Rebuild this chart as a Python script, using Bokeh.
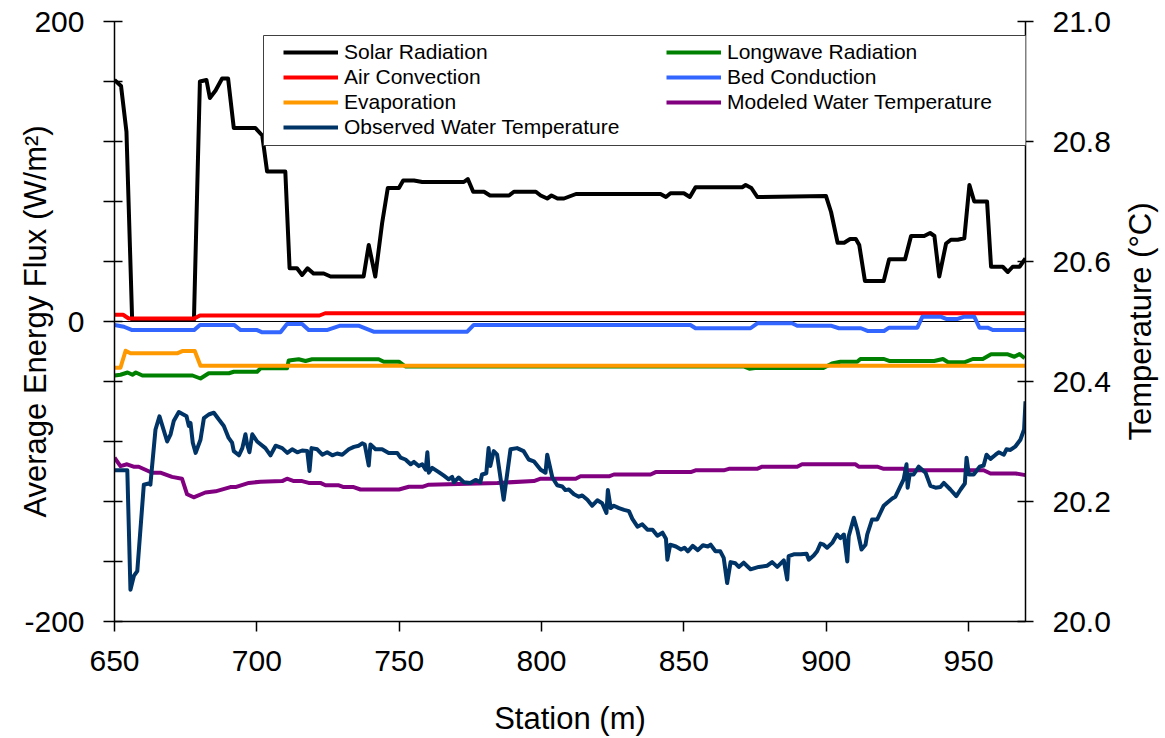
import math
from bokeh.plotting import figure
from bokeh.layouts import row
from bokeh.models import (Range1d, LinearAxis, FixedTicker, PrintfTickFormatter,
                          Legend, LegendItem, Span, BoxAnnotation, Title)
from bokeh.embed import file_html
from bokeh.resources import INLINE

# ---------------- data ----------------
solar_x = [650, 652.3, 654.2, 656.2, 677.9, 680, 682.3, 683.5, 685.5, 687.8,
           689.9, 691.9, 699.5, 701.9, 703.6, 710, 711.5, 714.1, 715.9, 717.8,
           719.9, 723.5, 725.9, 737.5, 739.3, 741.6, 744, 746, 749.9, 751.4,
           755.2, 758.1, 772.7, 774.1, 776, 779.8, 781.9, 788.6, 790.3, 798,
           799.7, 802, 803.5, 805.6, 807.9, 812.1, 841.8, 843.7, 845.3, 850,
           852.1, 854.1, 870.5, 871.7, 873.7, 875.8, 899.9, 901.7, 904, 906.3,
           908.4, 910.4, 911.6, 913.6, 920.2, 922.1, 927.7, 929.8, 934.4, 936.5,
           938, 939.7, 942.1, 943.8, 946.2, 948.5, 950.3, 952, 956.5, 957.9,
           962, 963.8, 965.5, 967.9, 970]
solar_flux = [161, 157, 126.5, 1, 1, 160, 161, 149, 154, 162,
              162, 129, 129, 124, 100, 100, 35.5, 35.5, 31, 35.5,
              32, 32, 30, 30, 51, 30, 65.5, 89, 89, 94,
              94, 93, 93, 95, 86.5, 86.5, 84, 84, 86.5, 86.5,
              84, 82, 84, 82, 82, 85, 85, 83, 85.5, 85.5,
              83, 89.5, 89.5, 91, 89, 83, 83.7, 73, 52.5, 52.5,
              55, 55, 51, 27, 27, 41.5, 41.5, 57, 57, 59,
              57, 30, 52, 54.5, 54.5, 55.5, 91, 80, 80, 36.5,
              36.5, 33, 36.5, 36.5, 42]

air_x = [650, 653, 655, 678, 680, 722, 724, 970]
air_flux = [4.5, 4.5, 2, 2, 4, 4, 5.5, 5.5]

bed_x = [650, 653.3, 656.2, 678, 680, 692, 694.3, 700.1, 701.9, 708.3,
         710.6, 715.9, 718.2, 724.6, 729.3, 735.7, 741, 773.9, 776.2, 852.3,
         854.1, 873.4, 875.8, 888, 889.8, 901.6, 904.5, 912.2, 914.5, 920.3,
         922.1, 932, 933.8, 940.2, 942.1, 946.2, 948.5, 952, 953.8, 956.7,
         958.5, 970]
bed_flux = [-2.3, -3.5, -5.7, -5.7, -2.3, -2.3, -5.7, -5.7, -7.2, -7.2,
            -1.7, -1.7, -5.7, -5.7, -2.8, -2.8, -6.8, -6.8, -2.3, -2.3,
            -4.5, -4.5, -1.2, -1.2, -2.8, -2.8, -4.5, -4.5, -6.3, -6.3,
            -4.1, -4.1, 3.2, 3.2, 1.7, 1.7, 3.2, 3.2, -4.1, -4.1,
            -5.7, -5.7]

evap_x = [650, 652.1, 653.9, 655.6, 672, 673.8, 678.2, 680.2, 970]
evap_flux = [-30.8, -30.8, -19.5, -21.2, -21.2, -19.7, -19.7, -29.5, -29.5]

lw_x = [650, 652.1, 654.6, 656.3, 657.5, 659.8, 677.4, 680.2, 683.1, 690.2,
        691.9, 700.1, 701.3, 710.6, 711.2, 714.7, 717.1, 719.4, 742.8, 744.6,
        749.9, 752.2, 871, 873, 875, 877, 899, 902, 905, 910.9,
        912, 920.3, 922.1, 937.9, 941, 942.8, 948.5, 951.5, 955, 957.9,
        963.8, 966.1, 967.9, 969.7]
lw_flux = [-36, -35.5, -34, -35.5, -34, -36, -36, -38, -34.5, -34.5,
           -33.5, -33.5, -31.2, -31.2, -26, -25.2, -26.3, -25.2, -25.2, -26.8,
           -26.8, -30, -30, -31.5, -31, -31, -31, -28, -26.8, -26.8,
           -25, -25, -26.3, -26.3, -25, -27.2, -27.2, -25, -25, -21.9,
           -21.9, -23.5, -21.7, -24.5]

mod_x = [650, 652.1, 654.4, 656.7, 658.5, 663.2, 666.1, 670.2, 673.7, 675.5,
         677.8, 681.9, 685.5, 690.7, 692.5, 697.2, 701.3, 708.9, 710.6, 713,
         715.9, 718.2, 722.3, 724.1, 728.8, 730.5, 734, 736.4, 749.9, 753.4,
         758.1, 760.4, 784.5, 797.3, 799.7, 812, 813.7, 823.7, 825.4, 838.3,
         840.1, 852.4, 854.1, 864, 865.8, 875.7, 877.5, 889.8, 891.5, 910.3,
         911.4, 917.9, 920.2, 927.2, 928.4, 955.3, 957.7, 966.5, 970]
mod_temp = [20.273, 20.259, 20.262, 20.258, 20.258, 20.248, 20.248, 20.241, 20.238, 20.212,
            20.207, 20.215, 20.217, 20.224, 20.224, 20.231, 20.233, 20.234, 20.238, 20.234,
            20.234, 20.231, 20.231, 20.227, 20.227, 20.224, 20.224, 20.220, 20.220, 20.2245,
            20.2245, 20.228, 20.231, 20.234, 20.238, 20.238, 20.242, 20.242, 20.245, 20.245,
            20.249, 20.249, 20.252, 20.252, 20.2545, 20.2545, 20.258, 20.258, 20.262, 20.262,
            20.258, 20.258, 20.2545, 20.2545, 20.252, 20.252, 20.2467, 20.2467, 20.244]

obs_x = [650, 654.5, 655.6, 656.8, 658.0, 660.3, 662.0, 662.6, 664.4, 665.8,
         668.5, 669.7, 670.8, 672.6, 675.3, 676.1, 676.7, 677.5, 678.5, 680.2,
         681.4, 683.1, 684.9, 686.6, 688.4, 690.1, 691.3, 691.9, 693.7, 694.9,
         696.0, 696.6, 697.4, 698.4, 700.1, 703.0, 704.8, 706.6, 708.9, 710.7,
         712.4, 714.2, 715.9, 717.7, 718.5, 719.2, 721.2, 723.0, 724.7, 726.5,
         728.2, 730.0, 732.3, 734.1, 735.8, 737.0, 737.9, 739.3, 739.9, 741.7,
         744.0, 746.3, 749.3, 750.5, 752.2, 754.0, 755.2, 756.9, 758.1, 759.3,
         759.9, 760.4, 761.6, 763.9, 765.7, 767.4, 768.6, 769.2, 770.9, 772.7,
         775.0, 776.8, 778.5, 779.1, 780.6, 781.4, 782.0, 783.2, 784.4, 786.7,
         789.1, 791.4, 793.7, 795.5, 797.3, 799.7, 801.4, 802.0, 803.8, 805.5,
         807.3, 808.4, 809.6, 811.4, 813.1, 814.3, 816.1, 817.8, 819.6, 821.3,
         822.8, 823.3, 824.3, 825.4, 827.2, 829.0, 830.7, 831.9, 833.7, 835.4,
         837.2, 839.0, 840.7, 842.5, 843.7, 844.2, 845.2, 847.2, 849.0, 850.2,
         851.4, 853.1, 854.9, 856.7, 858.4, 859.4, 861.1, 862.8, 864.0, 865.2,
         866.4, 868.1, 869.3, 871.0, 873.4, 876.3, 879.3, 881.0, 882.8, 885.1,
         886.3, 886.8, 888.6, 891.0, 893.1, 893.9, 895.6, 896.8, 898.0, 899.1,
         900.3, 902.1, 903.8, 905.0, 906.2, 907.4, 907.9, 909.7, 910.9, 912.4,
         913.8, 914.4, 916.1, 917.9, 920.2, 921.4, 923.2, 924.3, 926.1, 927.2,
         928.2, 928.6, 929.3, 930.7, 932.5, 934.9, 936.6, 938.4, 940.1, 941.3,
         943.6, 945.7, 947.2, 948.7, 949.3, 950.1, 951.8, 953.9, 955.3, 956.3,
         957.7, 959.5, 960.6, 962.4, 963.3, 964.7, 966.5, 968.2, 969.5, 970.0]
obs_temp = [20.252, 20.252, 20.053, 20.076, 20.084, 20.228, 20.230, 20.228, 20.320, 20.342,
            20.300, 20.312, 20.334, 20.349, 20.342, 20.326, 20.331, 20.298, 20.281, 20.303,
            20.339, 20.345, 20.348, 20.337, 20.326, 20.306, 20.298, 20.284, 20.277, 20.289,
            20.312, 20.295, 20.282, 20.312, 20.300, 20.289, 20.277, 20.293, 20.289, 20.281,
            20.287, 20.282, 20.285, 20.284, 20.251, 20.289, 20.287, 20.278, 20.282, 20.277,
            20.280, 20.278, 20.287, 20.291, 20.293, 20.297, 20.295, 20.260, 20.295, 20.287,
            20.287, 20.281, 20.281, 20.273, 20.270, 20.262, 20.266, 20.259, 20.262, 20.253,
            20.282, 20.248, 20.256, 20.249, 20.243, 20.237, 20.241, 20.232, 20.240, 20.232,
            20.231, 20.236, 20.232, 20.245, 20.247, 20.289, 20.259, 20.284, 20.278, 20.203,
            20.287, 20.289, 20.284, 20.270, 20.267, 20.253, 20.248, 20.278, 20.240, 20.227,
            20.225, 20.219, 20.220, 20.212, 20.208, 20.210, 20.203, 20.193, 20.202, 20.197,
            20.181, 20.219, 20.189, 20.193, 20.189, 20.186, 20.184, 20.171, 20.158, 20.162,
            20.153, 20.153, 20.143, 20.148, 20.138, 20.103, 20.128, 20.125, 20.120, 20.123,
            20.117, 20.126, 20.119, 20.127, 20.125, 20.128, 20.117, 20.117, 20.106, 20.064,
            20.099, 20.097, 20.091, 20.098, 20.087, 20.091, 20.093, 20.099, 20.091, 20.102,
            20.070, 20.109, 20.112, 20.112, 20.113, 20.103, 20.110, 20.117, 20.130, 20.128,
            20.123, 20.131, 20.145, 20.139, 20.145, 20.100, 20.142, 20.173, 20.153, 20.120,
            20.128, 20.145, 20.170, 20.170, 20.193, 20.198, 20.205, 20.208, 20.226, 20.237,
            20.262, 20.223, 20.245, 20.245, 20.258, 20.248, 20.226, 20.223, 20.224, 20.231,
            20.220, 20.209, 20.220, 20.230, 20.273, 20.245, 20.245, 20.258, 20.260, 20.278,
            20.271, 20.278, 20.282, 20.278, 20.287, 20.286, 20.292, 20.303, 20.320, 20.367]

x_ticks = [650, 700, 750, 800, 850, 900, 950]
flux_ticks = [-200, -160, -120, -80, -40, 0, 40, 80, 120, 160, 200]
flux_tick_labels = {-200: "-200", 0: "0", 200: "200"}
temp_ticks = [20.0, 20.2, 20.4, 20.6, 20.8, 21.0]

# ---------------- layout / style ----------------
FONT = "Liberation Sans"
W_TOTAL, H = 1165, 738
W_TITLE = 45                       # narrow strip holding the right-hand axis title
W = W_TOTAL - W_TITLE
B_LEFT, B_TOP = 114, 21
FRAME_W, FRAME_H = 911, 601
B_RIGHT = W - B_LEFT - FRAME_W
B_BOTTOM = H - B_TOP - FRAME_H

p = figure(width=W, height=H, output_backend="svg", toolbar_location=None,
           x_range=Range1d(650, 970), y_range=Range1d(-200, 200),
           min_border_left=B_LEFT, min_border_right=B_RIGHT,
           min_border_top=B_TOP, min_border_bottom=B_BOTTOM,
           background_fill_color="white", border_fill_color="white")
p.outline_line_color = None
p.xgrid.visible = False
p.ygrid.visible = False
p.extra_y_ranges = {"temp": Range1d(20.0, 21.0)}


def style_axis(ax, tick_in, tick_out, label_standoff, title_standoff):
    ax.axis_line_color = "black"
    ax.axis_line_width = 1.5
    ax.major_tick_line_color = "black"
    ax.major_tick_line_width = 1.5
    ax.major_tick_in = tick_in
    ax.major_tick_out = tick_out
    ax.minor_tick_line_color = None
    ax.major_label_text_font = FONT
    ax.major_label_text_font_size = "30px"
    ax.major_label_text_color = "black"
    ax.major_label_standoff = label_standoff
    ax.axis_label_text_font = FONT
    ax.axis_label_text_font_size = "31px"
    ax.axis_label_text_font_style = "normal"
    ax.axis_label_text_color = "black"
    ax.axis_label_standoff = title_standoff


xa = p.xaxis[0]
xa.ticker = FixedTicker(ticks=x_ticks)
xa.axis_label = "Station (m)"
style_axis(xa, 0, 10, 19, 27)

ya = p.yaxis[0]
ya.ticker = FixedTicker(ticks=flux_ticks)
ya.major_label_overrides = {t: flux_tick_labels.get(t, "") for t in flux_ticks}
ya.axis_label = "Average Energy Flux (W/m²)"
style_axis(ya, 8, 11, 19, -32)

yr = LinearAxis(y_range_name="temp", ticker=FixedTicker(ticks=temp_ticks),
                formatter=PrintfTickFormatter(format="%.1f"))
style_axis(yr, 8, 8, 19, 0)
p.add_layout(yr, "right")

p.add_layout(Span(location=0, dimension="width", line_color="black",
                  line_width=1, level="underlay"))

LW = 4
common = dict(line_width=LW, line_join="round")
r_solar = p.line(solar_x, solar_flux, line_color="black", **common)
r_lw = p.line(lw_x, lw_flux, line_color="#008000", **common)
r_air = p.line(air_x, air_flux, line_color="#FF0000", **common)
r_bed = p.line(bed_x, bed_flux, line_color="#3366FF", **common)
r_evap = p.line(evap_x, evap_flux, line_color="#FF9900", **common)
r_mod = p.line(mod_x, mod_temp, line_color="#800080", y_range_name="temp", **common)
r_obs = p.line(obs_x, obs_temp, line_color="#003366", y_range_name="temp", **common)

# legend frame (screen units, relative to the plot frame)
LEG_BOX_L, LEG_BOX_R = 149, 913
LEG_BOX_T, LEG_BOX_B = 15, 125      # distances from frame top
p.add_layout(BoxAnnotation(left=LEG_BOX_L, right=LEG_BOX_R,
                           top=FRAME_H - LEG_BOX_T, bottom=FRAME_H - LEG_BOX_B,
                           left_units="screen", right_units="screen",
                           top_units="screen", bottom_units="screen",
                           fill_color="white", fill_alpha=1.0,
                           line_color="#404040", line_width=1, line_alpha=1.0))

ROW_H, ROW_GAP, LEG_TOP = 24, 1, 20


def make_legend(items, x):
    n = len(items)
    h = n * ROW_H + (n - 1) * ROW_GAP
    leg = Legend(items=items, location=(x, FRAME_H - LEG_TOP - h),
                 orientation="vertical", padding=0, margin=0, spacing=ROW_GAP,
                 glyph_width=55, glyph_height=ROW_H, label_height=ROW_H,
                 label_standoff=6, border_line_color=None,
                 background_fill_alpha=0.0,
                 label_text_font=FONT, label_text_font_size="21px",
                 label_text_color="black")
    return leg


leg1 = make_legend([LegendItem(label="Solar Radiation", renderers=[r_solar]),
                    LegendItem(label="Air Convection", renderers=[r_air]),
                    LegendItem(label="Evaporation", renderers=[r_evap]),
                    LegendItem(label="Observed Water Temperature", renderers=[r_obs])], 169)
leg2 = make_legend([LegendItem(label="Longwave Radiation", renderers=[r_lw]),
                    LegendItem(label="Bed Conduction", renderers=[r_bed]),
                    LegendItem(label="Modeled Water Temperature", renderers=[r_mod])], 552)
p.add_layout(leg1, "center")
p.add_layout(leg2, "center")

# right-hand axis title: a narrow strip whose left-side title reads bottom to top
pt = figure(width=W_TITLE, height=H, output_backend="svg", toolbar_location=None,
            x_axis_location=None, y_axis_location=None,
            min_border_left=6, min_border_right=0,
            min_border_top=B_TOP, min_border_bottom=B_BOTTOM,
            background_fill_color="white", border_fill_color="white")
pt.outline_line_color = None
pt.xgrid.visible = False
pt.ygrid.visible = False
pt.add_layout(Title(text="Temperature (°C)", align="center", standoff=0, offset=0,
                    text_font=FONT, text_font_size="31px", text_font_style="normal",
                    text_color="black"), "left")

open("out.html", "w").write(file_html(row(p, pt), INLINE))
